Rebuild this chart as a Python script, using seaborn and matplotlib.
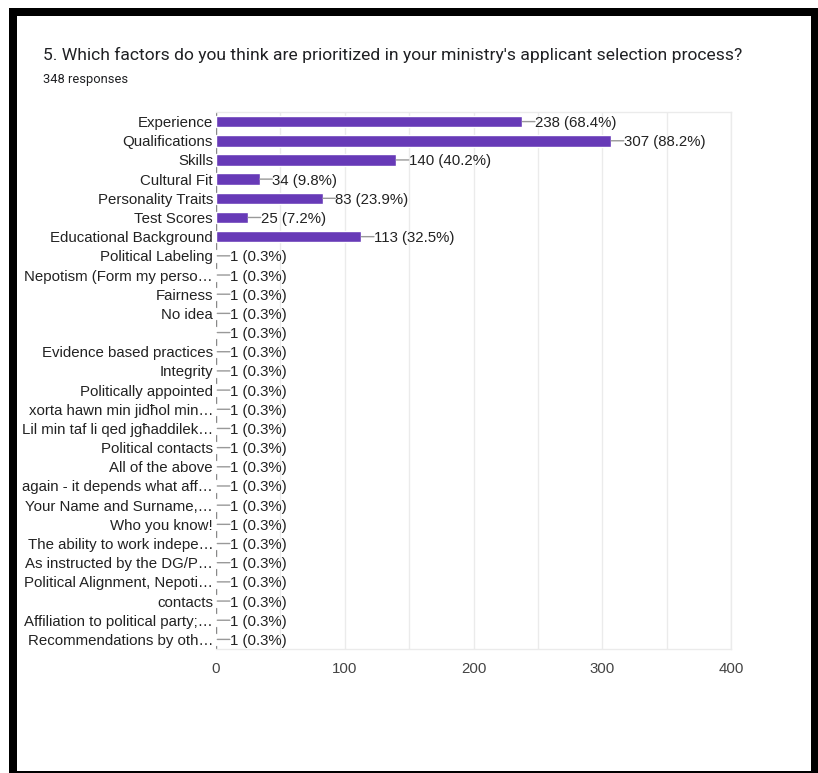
import matplotlib
matplotlib.use("Agg")
import matplotlib.pyplot as plt
from matplotlib.patches import Rectangle
from matplotlib.ticker import MultipleLocator
import seaborn as sns
import pandas as pd

# Survey answers and their response counts
factors = [
    "Experience",
    "Qualifications",
    "Skills",
    "Cultural Fit",
    "Personality Traits",
    "Test Scores",
    "Educational Background",
    "Political Labeling",
    "Nepotism (Form my perso\u2026",
    "Fairness",
    "No idea",
    "",
    "Evidence based practices",
    "Integrity",
    "Politically appointed",
    "xorta hawn min jid\u0127ol min\u2026",
    "Lil min taf li qed jg\u0127addilek\u2026",
    "Political contacts",
    "All of the above",
    "again - it depends what aff\u2026",
    "Your Name and Surname,\u2026",
    "Who you know!",
    "The ability to work indepe\u2026",
    "As instructed by the DG/P\u2026",
    "Political Alignment, Nepoti\u2026",
    "contacts",
    "Affiliation to political party;\u2026",
    "Recommendations by oth\u2026",
]
counts = [238, 307, 140, 34, 83, 25, 113] + [1] * 21
total_responses = 348
x_ticks = [0, 100, 200, 300, 400]

title = "5. Which factors do you think are prioritized in your ministry's applicant selection process?"
subtitle = f"{total_responses} responses"

DPI = 100
W, H = 818, 773


def px(v):
    """Convert a pixel size to points."""
    return v * 72 / DPI


sns.set_theme(style="white")
plt.rcParams["font.family"] = ["Liberation Sans", "DejaVu Sans"]

fig = plt.figure(figsize=(W / DPI, H / DPI), dpi=DPI)
fig.patch.set_facecolor("white")

# black frame around the card
frame = [
    (9, 8, 8, 765),      # left
    (9, 8, 809, 8),      # top
    (811, 8, 7, 765),    # right
    (9, 771, 809, 2),    # bottom
]
for x0, y0, w, h in frame:
    fig.add_artist(Rectangle((x0 / W, 1 - (y0 + h) / H), w / W, h / H,
                             transform=fig.transFigure, facecolor="black",
                             edgecolor="none", zorder=10))

left, right, top, bottom = 216, 731, 112, 649
ax = fig.add_axes([left / W, 1 - bottom / H, (right - left) / W, (bottom - top) / H])

df = pd.DataFrame({"factor": factors, "count": counts})
sns.barplot(data=df, x="count", y="factor", order=factors, orient="h",
            color="#673ab7", saturation=1, width=0.6, ax=ax, zorder=3)

ax.set_xlim(0, 400)
ax.set_xticks(x_ticks)
ax.xaxis.set_minor_locator(MultipleLocator(50))
ax.grid(axis="x", which="both", color="#ebebeb", linewidth=1, zorder=0)
ax.set_axisbelow(True)
ax.set_xlabel("")
ax.set_ylabel("")
ax.tick_params(axis="x", which="both", length=0, pad=px(13), labelsize=px(15),
               labelcolor="#444444")
ax.tick_params(axis="y", length=0, pad=px(3), labelsize=px(15), labelcolor="#222222")

for side in ("top", "right", "bottom"):
    ax.spines[side].set_color("#ebebeb")
    ax.spines[side].set_linewidth(1)
ax.spines["left"].set_visible(False)
ax.axvline(0, color="#888888", linewidth=1, zorder=2.5)

# value labels, each joined to its bar by a short horizontal leader line
lead = px(12.5)
for i, c in enumerate(counts):
    pct = c / total_responses * 100
    ax.annotate("", xy=(c, i), xycoords="data",
                xytext=(lead, 0), textcoords="offset points",
                arrowprops=dict(arrowstyle="-", color="#999999", lw=1,
                                shrinkA=0, shrinkB=0),
                zorder=5)
    ax.annotate(f"{c} ({pct:.1f}%)", xy=(c, i), xycoords="data",
                xytext=(lead, 0), textcoords="offset points",
                ha="left", va="center_baseline", fontsize=px(15),
                color="#222222", zorder=5)

fig.text(43 / W, 1 - 55 / H, title, fontsize=px(17.45), color="#202124",
         family=["Roboto", "DejaVu Sans"], ha="left", va="center")
fig.text(43 / W, 1 - 79 / H, subtitle, fontsize=px(12.9), color="#202124",
         family=["Roboto", "DejaVu Sans"], ha="left", va="center")

fig.savefig("out.png", dpi=DPI, facecolor="white")
